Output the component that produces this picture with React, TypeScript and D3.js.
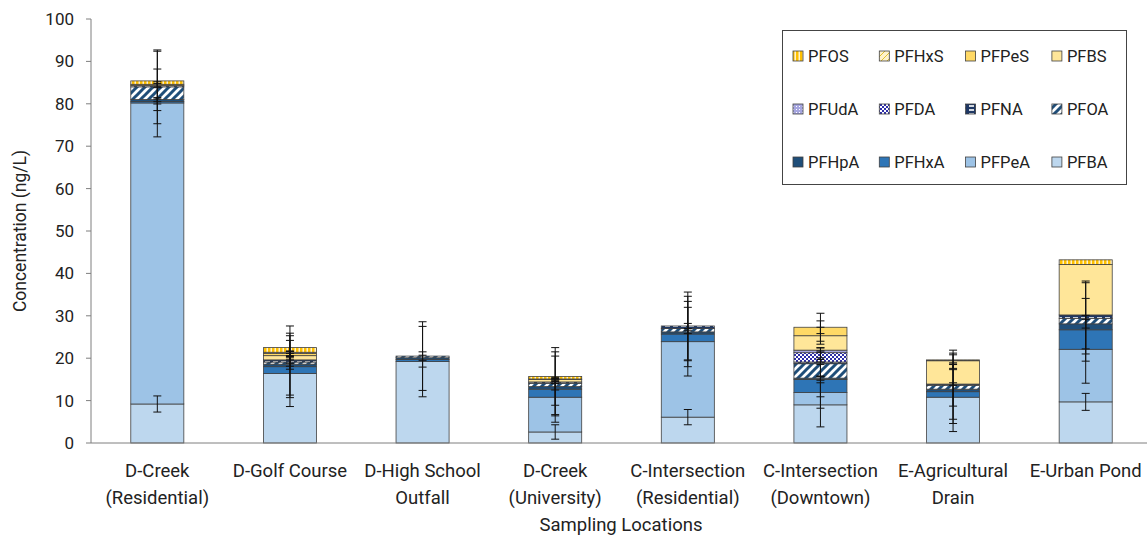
import React from 'react';
import * as d3 from 'd3';

// sampling locations (two label lines each)
const locations = [
  'D-Creek\n(Residential)',
  'D-Golf Course',
  'D-High School\nOutfall',
  'D-Creek\n(University)',
  'C-Intersection\n(Residential)',
  'C-Intersection\n(Downtown)',
  'E-Agricultural\nDrain',
  'E-Urban Pond',
];

// stack order, bottom to top
const seriesNames = ['PFBA', 'PFPeA', 'PFHxA', 'PFHpA', 'PFOA', 'PFNA', 'PFDA', 'PFUdA', 'PFBS', 'PFPeS', 'PFHxS', 'PFOS'];

// concentrations (ng/L)
const pfba = [9.2, 16.4, 19.2, 2.6, 6.1, 9.0, 10.8, 9.7];
const pfpea = [71.0, 0, 0, 8.2, 17.8, 2.9, 0, 12.4];
const pfhxa = [0.35, 1.6, 0.5, 1.9, 1.8, 3.1, 1.3, 4.6];
const pfhpa = [0.45, 0.6, 0.4, 0.6, 0.5, 0.3, 0.6, 1.4];
const pfoa = [3.0, 0.5, 0.4, 0.8, 0.8, 3.4, 0.9, 1.3];
const pfna = [0.3, 0.5, 0, 0.3, 0.6, 0.4, 0.3, 0.8];
const pfda = [0, 0, 0, 0, 0, 2.2, 0, 0];
const pfuda = [0, 0, 0, 0, 0, 0.6, 0, 0];
const pfbs = [0, 1.0, 0, 0.6, 0, 3.4, 5.5, 11.9];
const pfpes = [0.3, 0.5, 0, 0.1, 0, 2.0, 0, 0];
const pfhxs = [0, 0.3, 0, 0, 0, 0, 0, 0];
const pfos = [0.8, 1.1, 0, 0.6, 0, 0, 0.2, 1.1];

// standard deviations (error bars)
const errPfba = [1.9, 7.8, 8.3, 1.7, 1.8, 5.2, 8.1, 2.0];
const errPfpea = [8.0, 0, 0, 4.4, 8.1, 3.7, 0, 8.0];
const errPfhxa = [0.6, 7.3, 1.8, 7.8, 7.7, 4.1, 6.5, 7.4];
const errPfhpa = [0.5, 7.3, 0.6, 0.8, 0.4, 0.5, 8.1, 1.0];
const errPfoa = [8.7, 1.0, 0, 7.4, 7.6, 3.0, 4.9, 8.4];
const errPfna = [0.5, 0.8, 0, 0.4, 0.6, 0.6, 0.3, 8.0];
const errPfda = [0, 0, 0, 0, 0, 1.2, 0, 0];
const errPfuda = [0, 0, 0, 0, 0, 0.5, 0, 0];
const errPfbs = [0, 1.0, 0, 0.5, 0, 2.0, 1.8, 0];
const errPfpes = [0.6, 0.5, 0, 0.2, 0, 1.5, 0, 0];
const errPfhxs = [0, 0.3, 0, 0, 0, 0, 0, 0];
const errPfos = [7.0, 5.1, 8.1, 6.8, 8.0, 3.3, 2.3, 0];

const values = [pfba, pfpea, pfhxa, pfhpa, pfoa, pfna, pfda, pfuda, pfbs, pfpes, pfhxs, pfos];
const errors = [errPfba, errPfpea, errPfhxa, errPfhpa, errPfoa, errPfna, errPfda, errPfuda, errPfbs, errPfpes, errPfhxs, errPfos];

const yTicks = [0, 10, 20, 30, 40, 50, 60, 70, 80, 90, 100];

// legend rows as shown in the picture
const legendRows = [
  ['PFOS', 'PFHxS', 'PFPeS', 'PFBS'],
  ['PFUdA', 'PFDA', 'PFNA', 'PFOA'],
  ['PFHpA', 'PFHxA', 'PFPeA', 'PFBA'],
];

const fills: Record<string, string> = {
  PFBA: '#bdd7ee',
  PFPeA: '#9dc3e6',
  PFHxA: '#2e75b6',
  PFHpA: '#1f4e79',
  PFOA: 'url(#pOA)',
  PFNA: 'url(#pNA)',
  PFDA: 'url(#pDA)',
  PFUdA: 'url(#pUdA)',
  PFBS: '#ffe699',
  PFPeS: '#ffd966',
  PFHxS: 'url(#pHxS)',
  PFOS: 'url(#pOS)',
};

const W = 1147;
const H = 539;
const margin = { left: 91, top: 19, bottom: 96 };
const plotRight = 1152;

export default function App() {
  const x = d3.scaleBand<string>().domain(locations).range([margin.left, plotRight]).paddingInner(0.6).paddingOuter(0.3);
  const y = d3.scaleLinear().domain([0, 100]).range([H - margin.bottom, margin.top]);

  const table = locations.map((loc, i) => {
    const row: any = { loc };
    seriesNames.forEach((s, k) => (row[s] = values[k][i]));
    return row;
  });
  const stacked = d3.stack<any>().keys(seriesNames)(table);

  const axisY = y(0);
  const font = "Roboto, 'Liberation Sans', sans-serif";

  return (
    <svg width={W} height={H} style={{ position: 'absolute', left: 0, top: 0, background: '#fff' }}>
      <defs>
        <pattern id="pOA" width="8" height="8" patternUnits="userSpaceOnUse">
          <rect width="8" height="8" fill="#fff" />
          <path d="M-2,10 L10,-2 M-6,6 L6,-6 M2,14 L14,2" stroke="#1f4e79" strokeWidth="3" />
        </pattern>
        <pattern id="pNA" width="8" height="4" patternUnits="userSpaceOnUse">
          <rect width="8" height="4" fill="#1f3864" />
          <rect x="1" y="1.2" width="5" height="1.6" fill="#fff" />
        </pattern>
        <pattern id="pDA" width="4" height="4" patternUnits="userSpaceOnUse">
          <rect width="4" height="4" fill="#fff" />
          <rect width="2" height="2" fill="#2f2fa8" />
          <rect x="2" y="2" width="2" height="2" fill="#2f2fa8" />
        </pattern>
        <pattern id="pUdA" width="3" height="3" patternUnits="userSpaceOnUse">
          <rect width="3" height="3" fill="#a6a6e0" />
          <rect x="1" y="1" width="1" height="1" fill="#fff" />
        </pattern>
        <pattern id="pHxS" width="6" height="6" patternUnits="userSpaceOnUse">
          <rect width="6" height="6" fill="#fff2cc" />
          <path d="M-1,7 L7,-1" stroke="#d9b300" strokeWidth="0.8" />
        </pattern>
        <pattern id="pOS" width="4" height="4" patternUnits="userSpaceOnUse">
          <rect width="4" height="4" fill="#ffc000" />
          <rect x="2.5" width="1.5" height="4" fill="#fff2cc" />
        </pattern>
      </defs>

      {/* y axis */}
      <line x1={margin.left} x2={margin.left} y1={y(100)} y2={axisY} stroke="#7f7f7f" strokeWidth={1} />
      {yTicks.map((t) => (
        <g key={t}>
          <line x1={margin.left - 5} x2={margin.left} y1={y(t)} y2={y(t)} stroke="#7f7f7f" />
          <text x={margin.left - 17} y={y(t)} dy="0.35em" textAnchor="end" fontSize={17} fontFamily={font} fill="#222">
            {t}
          </text>
        </g>
      ))}
      <text
        transform={`translate(20,${(y(0) + y(100)) / 2}) rotate(-90)`}
        textAnchor="middle"
        dy="0.35em"
        fontSize={17.5}
        fontFamily={font}
        fill="#222"
      >
        Concentration (ng/L)
      </text>

      {/* stacked bars */}
      {stacked.map((layer, k) => (
        <g key={seriesNames[k]}>
          {layer.map((d, i) => {
            const h = y(d[0]) - y(d[1]);
            if (h <= 0) return null;
            return (
              <rect
                key={i}
                x={x(locations[i])}
                y={y(d[1])}
                width={x.bandwidth()}
                height={h}
                fill={fills[seriesNames[k]]}
                stroke="#404040"
                strokeWidth={0.8}
              />
            );
          })}
        </g>
      ))}

      {/* error bars at each series' cumulative top */}
      {stacked.map((layer, k) =>
        layer.map((d, i) => {
          const e = errors[k][i];
          if (!e) return null;
          const cx = (x(locations[i]) as number) + x.bandwidth() / 2;
          const top = y(d[1] + e);
          const bot = y(Math.max(0, d[1] - e));
          return (
            <g key={`${k}-${i}`} stroke="#111" strokeWidth={1}>
              <line x1={cx} x2={cx} y1={top} y2={bot} />
              <line x1={cx - 4} x2={cx + 4} y1={top} y2={top} />
              <line x1={cx - 4} x2={cx + 4} y1={bot} y2={bot} />
            </g>
          );
        })
      )}

      {/* x axis */}
      <line x1={margin.left} x2={plotRight} y1={axisY} y2={axisY} stroke="#7f7f7f" strokeWidth={1} />
      {locations.map((loc) => {
        const cx = (x(loc) as number) + x.bandwidth() / 2;
        return (
          <text key={loc} x={cx} y={477} textAnchor="middle" fontSize={18.5} fontFamily={font} fill="#222">
            {loc.split('\n').map((line, j) => (
              <tspan key={j} x={cx} dy={j === 0 ? 0 : 27}>
                {line}
              </tspan>
            ))}
          </text>
        );
      })}
      <text x={621} y={531} textAnchor="middle" fontSize={18.5} fontFamily={font} fill="#222">
        Sampling Locations
      </text>

      {/* legend */}
      <rect x={782.5} y={30.5} width={344} height={154} fill="#fff" stroke="#444" strokeWidth={1} />
      {legendRows.map((row, r) =>
        row.map((name, c) => {
          const lx = 793 + c * 86.3;
          const ly = 56 + r * 53;
          return (
            <g key={name}>
              <rect x={lx} y={ly - 5} width={10} height={10} fill={fills[name]} stroke="#404040" strokeWidth={0.8} />
              <text x={lx + 15} y={ly} dy="0.35em" fontSize={16.5} fontFamily={font} fill="#222">
                {name}
              </text>
            </g>
          );
        })
      )}
    </svg>
  );
}
